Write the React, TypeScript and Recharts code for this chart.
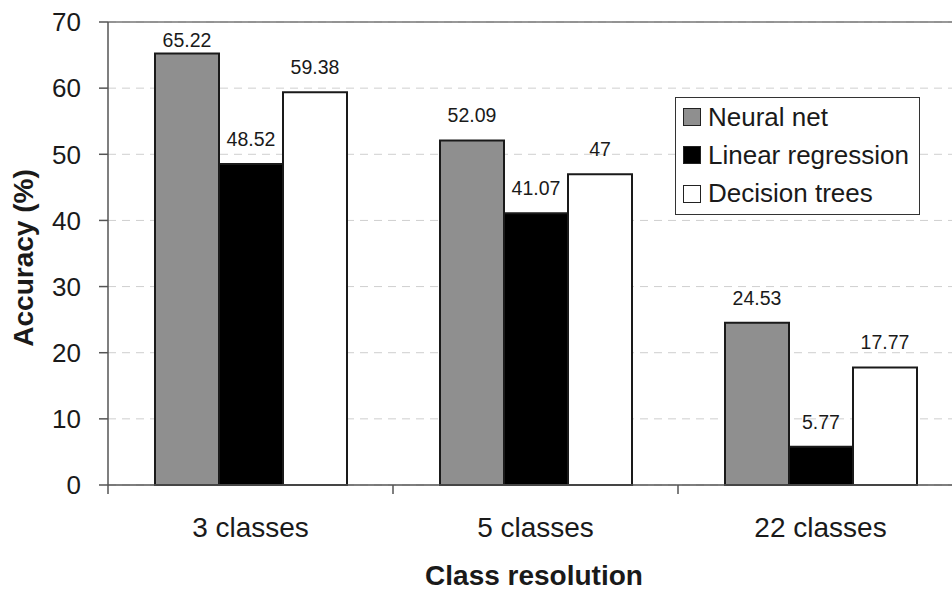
import { BarChart, Bar, XAxis, YAxis, CartesianGrid, Legend, ReferenceLine } from "recharts";

const categories = ["3 classes", "5 classes", "22 classes"];
const neuralNet = [65.22, 52.09, 24.53];
const linearRegression = [48.52, 41.07, 5.77];
const decisionTrees = [59.38, 47, 17.77];
const yTicks = [0, 10, 20, 30, 40, 50, 60, 70];

const series = [
  { key: "neural", name: "Neural net", values: neuralNet, fill: "#8f8f8f" },
  { key: "linear", name: "Linear regression", values: linearRegression, fill: "#000000" },
  { key: "trees", name: "Decision trees", values: decisionTrees, fill: "#ffffff" },
];

const rows = categories.map((name, i) => {
  const row: Record<string, string | number> = { name };
  series.forEach((s) => {
    row[s.key] = s.values[i];
  });
  return row;
});

const WIDTH = 970;
const HEIGHT = 590;
const PLOT_LEFT = 108;
const PLOT_TOP = 22;
const PLOT_BOTTOM = 485;
const PLOT_RIGHT = 963;
const BAND = (PLOT_RIGHT - PLOT_LEFT) / categories.length;
const Y_AXIS_WIDTH = 100;
const FONT = "'Liberation Sans', Arial, sans-serif";
const INK = "#1a1a1a";
const AXIS = "#555555";

// value labels sit above each bar, pushed down when they would run into the top edge
const renderValue = (props: any) => {
  const { x, y, width, value } = props;
  const baseline = Math.max(Number(y) - 18, PLOT_TOP + 25);
  return (
    <text
      x={Number(x) + Number(width) / 2}
      y={baseline}
      textAnchor="middle"
      fontSize={19.5}
      fontFamily={FONT}
      fill={INK}
    >
      {value}
    </text>
  );
};

// category label plus a tick mark on the left boundary of each band
const CategoryTick = (props: any) => {
  const { x, payload } = props;
  const edge = x - BAND / 2;
  return (
    <g>
      <line x1={edge} x2={edge} y1={PLOT_BOTTOM} y2={PLOT_BOTTOM + 9} stroke={AXIS} strokeWidth={1.5} />
      <text x={x} y={PLOT_BOTTOM + 52} textAnchor="middle" fontSize={28} fontFamily={FONT} fill={INK}>
        {payload.value}
      </text>
    </g>
  );
};

const LegendBox = () => (
  <div
    style={{
      border: "1.5px solid #333",
      background: "#fff",
      padding: "0 0 0 7px",
      fontFamily: FONT,
      fontSize: 26,
      color: INK,
      boxSizing: "border-box",
      width: 245,
      height: 118,
    }}
  >
    {series.map((s) => (
      <div key={s.key} style={{ display: "flex", alignItems: "center", height: 38.3, whiteSpace: "nowrap" }}>
        <span
          style={{
            display: "inline-block",
            flex: "none",
            width: 16,
            height: 16,
            background: s.fill,
            border: "1.5px solid #222",
            marginRight: 7,
          }}
        />
        {s.name}
      </div>
    ))}
  </div>
);

const yMid = 258;

export default function App() {
  return (
    <div style={{ position: "fixed", left: 0, top: 0, width: 952, height: 590, overflow: "hidden", background: "#fff" }}>
      <BarChart
        width={WIDTH}
        height={HEIGHT}
        data={rows}
        margin={{ top: PLOT_TOP, right: WIDTH - PLOT_RIGHT, bottom: 0, left: PLOT_LEFT - Y_AXIS_WIDTH }}
        barCategoryGap={47}
        barGap={0}
      >
        <CartesianGrid vertical={false} stroke="#cfcfcf" strokeDasharray="8 6" />
        <ReferenceLine y={70} stroke="#777" strokeWidth={1.5} />
        <XAxis
          dataKey="name"
          tickLine={false}
          axisLine={{ stroke: AXIS, strokeWidth: 1.5 }}
          tick={<CategoryTick />}
          height={HEIGHT - PLOT_BOTTOM}
          label={() => (
            <text
              x={534}
              y={585}
              textAnchor="middle"
              fontSize={28}
              fontWeight="bold"
              fontFamily={FONT}
              fill={INK}
            >
              Class resolution
            </text>
          )}
        />
        <YAxis
          domain={[0, 70]}
          ticks={yTicks}
          width={Y_AXIS_WIDTH}
          tickSize={9}
          tickMargin={18}
          tickLine={{ stroke: AXIS, strokeWidth: 1.5 }}
          axisLine={{ stroke: AXIS, strokeWidth: 1.5 }}
          tick={{ fontSize: 26, fontFamily: FONT, fill: INK }}
          label={() => (
            <text
              x={33}
              y={yMid}
              transform={`rotate(-90 33 ${yMid})`}
              textAnchor="middle"
              fontSize={28}
              fontWeight="bold"
              fontFamily={FONT}
              fill={INK}
            >
              Accuracy (%)
            </text>
          )}
        />
        <Legend
          layout="vertical"
          align="center"
          verticalAlign="middle"
          content={<LegendBox />}
          wrapperStyle={{ position: "absolute", left: 675, top: 97, width: 245, height: 118 }}
        />
        {series.map((s) => (
          <Bar
            key={s.key}
            dataKey={s.key}
            name={s.name}
            fill={s.fill}
            stroke="#1a1a1a"
            strokeWidth={2}
            isAnimationActive={false}
            label={renderValue}
          />
        ))}
      </BarChart>
    </div>
  );
}
